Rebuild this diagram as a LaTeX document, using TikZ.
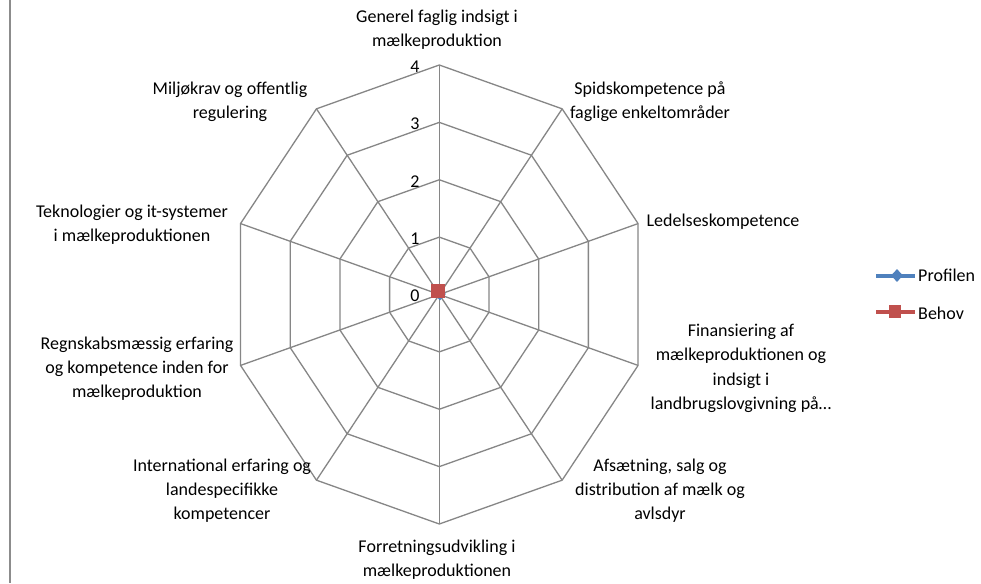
\documentclass[tikz,border=0pt]{standalone}
\usepackage{fontspec}
\setmainfont{Carlito}
\usetikzlibrary{shapes.geometric}
\definecolor{gridgray}{HTML}{868686}
\definecolor{frameline}{HTML}{8C8C8C}
\definecolor{serblue}{HTML}{4F81BD}
\definecolor{serred}{HTML}{C0504D}
\begin{document}
\begin{tikzpicture}[x=1pt,y=-1pt,
  grid/.style={draw=gridgray, line width=1.3pt},
  axislabel/.style={align=center, inner sep=0pt, font=\fontsize{18}{24}\selectfont},
  ticklabel/.style={inner sep=0pt, font=\fontsize{18}{20}\selectfont},
  legendtext/.style={anchor=west, inner sep=0pt, font=\fontsize{18}{20}\selectfont},
  serline/.style={line width=4pt},
  diamark/.style={diamond, inner sep=0pt, minimum width=12pt, minimum height=13pt},
  sqmark/.style={inner sep=0pt, minimum size=12.5pt}]
\useasboundingbox (0,0) rectangle (981,583);
\fill[white] (0,0) rectangle (981,583);
% left frame edge
\coordinate (ft) at (10,0);
\coordinate (fb) at (10,583);
\draw[frameline, line width=1.5pt] (ft) -- (fb);

% centre and ring geometry (level 4 = outer ring)
\def\cx{439.3}
\def\cy{294.5}
\def\rx{52.25}
\def\ry{57.375}
\coordinate (O) at (\cx,\cy);
\foreach \k in {1,...,4}{
  \foreach \i in {0,...,9}{
    \coordinate (r\k-\i) at ({\cx+\rx*\k*cos(90-36*\i)},{\cy-\ry*\k*sin(90-36*\i)});
  }
}
% rings
\foreach \k in {1,...,4}{
  \draw[grid] (r\k-0) \foreach \i in {1,...,9}{ -- (r\k-\i) } -- cycle;
}
% spokes
\foreach \i in {0,...,9}{
  \draw[grid] (O) -- (r4-\i);
}
% scale labels
\foreach \k in {0,...,4}{
  \node[ticklabel] (t\k) at (415,{\cy-\ry*\k+1.5}) {\k};
}

% axis labels
\node[axislabel] (a0) at (437,30) {Generel faglig indsigt i\\mælkeproduktion};
\node[axislabel] (a1) at (650,102) {Spidskompetence på\\faglige enkeltområder};
\node[axislabel] (a2) at (723,222) {Ledelseskompetence};
\node[axislabel, font=\fontsize{18}{24.5}\selectfont] (a3) at (741,368.5) {Finansiering af\\mælkeproduktionen og\\indsigt i\\landbrugslovgivning på…};
\node[axislabel] (a4) at (660,491) {Afsætning, salg og\\distribution af mælk og\\avlsdyr};
\node[axislabel] (a5) at (437,560) {Forretningsudvikling i\\mælkeproduktionen};
\node[axislabel] (a6) at (222,491) {International erfaring og\\landespecifikke\\kompetencer};
\node[axislabel] (a7) at (137,369) {Regnskabsmæssig erfaring\\og kompetence inden for\\mælkeproduktion};
\node[axislabel] (a8) at (132,225) {Teknologier og it-systemer\\i mælkeproduktionen};
\node[axislabel] (a9) at (230,102) {Miljøkrav og offentlig\\regulering};

% data markers (all values 0)
\node[fill=serblue, diamark] (pz) at (440,294) {};
\node[fill=serred, sqmark, minimum size=14pt] (bz) at (438,291) {};

% legend
\coordinate (l1a) at (876,275.5);
\coordinate (l1b) at (915,275.5);
\draw[serline, serblue] (l1a) -- (l1b);
\node[fill=serblue, diamark] (l1m) at (897,275.5) {};
\node[legendtext] (l1t) at (918,275.5) {Profilen};
\coordinate (l2a) at (876,311.5);
\coordinate (l2b) at (915,311.5);
\draw[serline, serred] (l2a) -- (l2b);
\node[fill=serred, sqmark] (l2m) at (895,311.5) {};
\node[legendtext] (l2t) at (918,313) {Behov};
\end{tikzpicture}
\end{document}
